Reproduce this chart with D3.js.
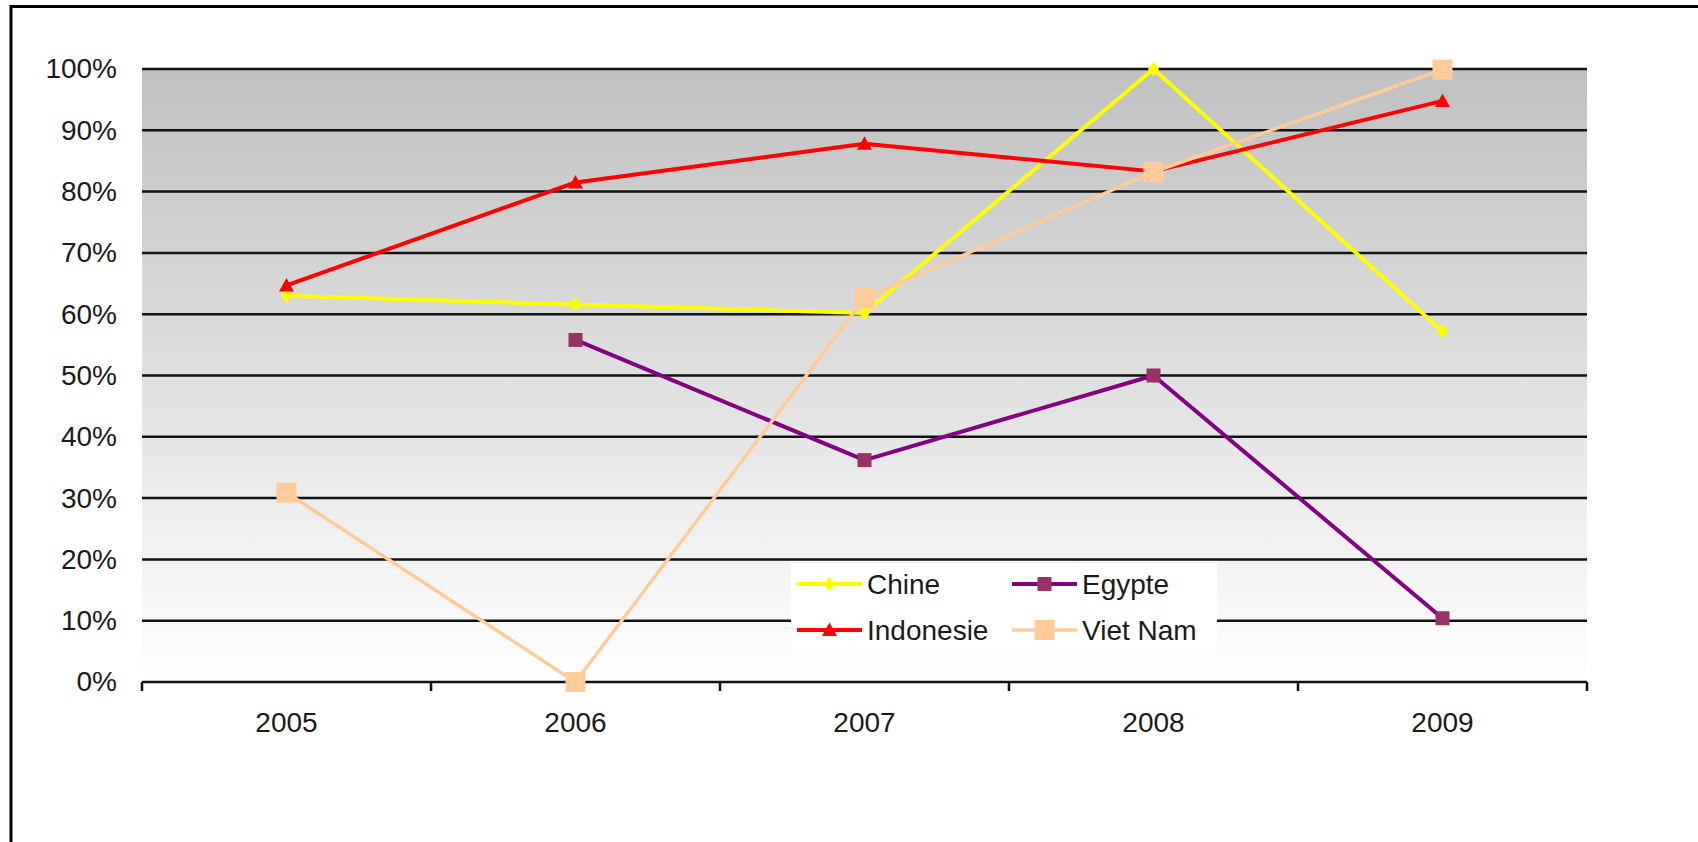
<!DOCTYPE html>
<html>
<head>
<meta charset="utf-8">
<script src="https://cdn.jsdelivr.net/npm/d3@7"></script>
<style>
  html, body { margin: 0; padding: 0; background: #fff; }
  svg { display: block; }
  text { font-family: "Liberation Sans", Arial, sans-serif; fill: #1a1a1a; }
</style>
</head>
<body>
<svg id="chart" width="1698" height="842"></svg>
<script>
const years = ["2005", "2006", "2007", "2008", "2009"];
const chine = [63.0, 61.6, 60.2, 100, 57.2];
const egypte = [null, 55.8, 36.2, 50.0, 10.4];
const indonesie = [64.7, 81.5, 87.8, 83.3, 94.8];
const vietNam = [30.9, 0, 62.6, 83.2, 99.9];
const yTicks = [0, 10, 20, 30, 40, 50, 60, 70, 80, 90, 100];
const seriesNames = ["Chine", "Egypte", "Indonesie", "Viet Nam"];

const seriesList = [
  { name: seriesNames[0], values: chine, line: "#FFFF00", fill: "#FFFF00", marker: "diamond", size: 13, lw: 4 },
  { name: seriesNames[1], values: egypte, line: "#800080", fill: "#993366", marker: "square", size: 14, lw: 4 },
  { name: seriesNames[2], values: indonesie, line: "#FF0000", fill: "#FF0000", marker: "triangle", size: 15, lw: 4 },
  { name: seriesNames[3], values: vietNam, line: "#FFCC99", fill: "#FFCC99", marker: "square", size: 20, lw: 3.5 }
];

const svg = d3.select("#chart");
const L = 142, R = 1587, T = 69, B = 682;

const x = d3.scaleBand().domain(years).range([L, R]).padding(0);
const xc = d => x(d) + x.bandwidth() / 2;
const y = d3.scaleLinear().domain([0, 100]).range([B, T]);

// outer frame (only top and left visible)
svg.append("rect").attr("x", 11).attr("y", 6.5).attr("width", 1760).attr("height", 900)
  .attr("fill", "none").attr("stroke", "#000").attr("stroke-width", 3);

// gradient plot area
const defs = svg.append("defs");
const grad = defs.append("linearGradient").attr("id", "bg").attr("x1", 0).attr("y1", 0).attr("x2", 0).attr("y2", 1);
grad.append("stop").attr("offset", "0%").attr("stop-color", "#c0c0c0");
grad.append("stop").attr("offset", "100%").attr("stop-color", "#ffffff");
svg.append("rect").attr("x", L).attr("y", y(100)).attr("width", R - L).attr("height", y(0) - y(100))
  .attr("fill", "url(#bg)");

// gridlines
svg.append("g").selectAll("line").data(yTicks.filter(t => t > 0)).join("line")
  .attr("x1", L).attr("x2", R).attr("y1", d => y(d)).attr("y2", d => y(d))
  .attr("stroke", "#111").attr("stroke-width", 2.5);

// y axis labels
const yAxis = d3.axisLeft(y).tickValues(yTicks).tickFormat(d => d + "%").tickSize(0).tickPadding(25);
const yg = svg.append("g").attr("transform", `translate(${L},0)`).call(yAxis);
yg.select(".domain").remove();
yg.selectAll("text").attr("font-size", 28).attr("font-family", "Liberation Sans, Arial, sans-serif").attr("fill", "#1a1a1a");

// x axis
const xAxis = d3.axisBottom(x).tickSize(0).tickPadding(30);
const xg = svg.append("g").attr("transform", `translate(0,${B})`).call(xAxis);
xg.select(".domain").remove();
xg.selectAll("text").attr("font-size", 28).attr("font-family", "Liberation Sans, Arial, sans-serif").attr("fill", "#1a1a1a");
svg.append("line").attr("x1", L).attr("x2", R).attr("y1", B).attr("y2", B).attr("stroke", "#111").attr("stroke-width", 2.5);
const bounds = years.map(d => x(d)).concat([R]);
svg.append("g").selectAll("line").data(bounds).join("line")
  .attr("x1", d => d).attr("x2", d => d).attr("y1", B).attr("y2", B + 9)
  .attr("stroke", "#111").attr("stroke-width", 2.5);

function markerPath(type, s) {
  const h = s / 2;
  if (type === "diamond") return `M0,${-h * 1.15}L${h * 0.85},0L0,${h * 1.15}L${-h * 0.85},0Z`;
  if (type === "triangle") return `M0,${-h}L${h},${h * 0.8}L${-h},${h * 0.8}Z`;
  return `M${-h},${-h}H${h}V${h}H${-h}Z`;
}

const lineGen = d3.line().defined(d => d.v !== null).x(d => xc(d.year)).y(d => y(d.v));

seriesList.forEach(s => {
  const pts = years.map((yr, i) => ({ year: yr, v: s.values[i] }));
  const g = svg.append("g");
  g.append("path").datum(pts).attr("d", lineGen)
    .attr("fill", "none").attr("stroke", s.line).attr("stroke-width", s.lw).attr("stroke-linejoin", "round");
  g.selectAll("path.m").data(pts.filter(p => p.v !== null)).join("path").attr("class", "m")
    .attr("transform", p => `translate(${xc(p.year)},${y(p.v)})`)
    .attr("d", markerPath(s.marker, s.size)).attr("fill", s.fill);
});

// legend
const lg = svg.append("g");
lg.append("rect").attr("x", 791).attr("y", 563).attr("width", 426).attr("height", 87).attr("fill", "#fff");
const legendPos = [
  { x: 797, y: 584 }, { x: 1012, y: 584 }, { x: 797, y: 630 }, { x: 1012, y: 630 }
];
seriesList.forEach((s, i) => {
  const p = legendPos[i];
  const g = lg.append("g").attr("transform", `translate(${p.x},${p.y})`);
  g.append("line").attr("x1", 0).attr("x2", 65).attr("y1", 0).attr("y2", 0)
    .attr("stroke", s.line).attr("stroke-width", s.lw);
  g.append("path").attr("transform", "translate(32.5,0)").attr("d", markerPath(s.marker, s.size)).attr("fill", s.fill);
  g.append("text").attr("x", 70).attr("y", 0).attr("dy", "0.35em").attr("font-size", 28).text(s.name);
});
</script>
</body>
</html>
